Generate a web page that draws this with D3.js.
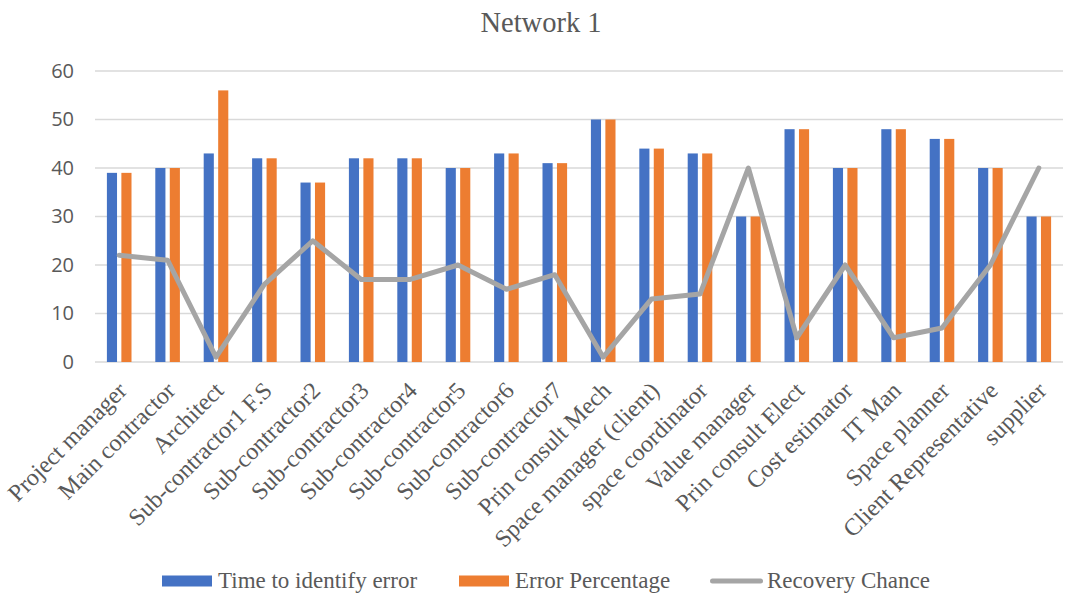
<!DOCTYPE html>
<html>
<head>
<meta charset="utf-8">
<script src="https://cdn.jsdelivr.net/npm/d3@7"></script>
<style>
  html, body { margin: 0; padding: 0; background: #fff; }
  svg { display: block; }
</style>
</head>
<body>
<svg id="chart" width="1065" height="596"></svg>
<script>
// Roles in network 1
const categories = [
  "Project manager", "Main contractor", "Architect", "Sub-contractor1 F.S",
  "Sub-contractor2", "Sub-contractor3", "Sub-contractor4", "Sub-contractor5",
  "Sub-contractor6", "Sub-contractor7", "Prin consult Mech", "Space manager (client)",
  "space coordinator", "Value manager", "Prin consult Elect", "Cost estimator",
  "IT Man", "Space planner", "Client Representative", "supplier"
];
const timeToIdentify = [39, 40, 43, 42, 37, 42, 42, 40, 43, 41, 50, 44, 43, 30, 48, 40, 48, 46, 40, 30];
const errorPercentage = [39, 40, 56, 42, 37, 42, 42, 40, 43, 41, 50, 44, 43, 30, 48, 40, 48, 46, 40, 30];
const recoveryChance = [22, 21, 1, 16, 25, 17, 17, 20, 15, 18, 1, 13, 14, 40, 5, 20, 5, 7, 20, 40];
const yTicks = [0, 10, 20, 30, 40, 50, 60];
const seriesNames = ["Time to identify error", "Error Percentage", "Recovery Chance"];

const colors = { time: "#4472c4", error: "#ed7d31", recovery: "#a5a5a5" };
const serif = "'Liberation Serif', 'Times New Roman', serif";
const sans = "'Open Sans', 'Noto Sans', sans-serif";

const svg = d3.select("#chart");
const plot = { left: 95, right: 1063, top: 71, bottom: 362 };

const x0 = d3.scaleBand().domain(categories).range([plot.left, plot.right]).padding(0);
const groupWidth = 24.6;
const x1 = d3.scaleBand().domain(["time", "error"]).range([0, groupWidth]).paddingInner(0.3);
const y = d3.scaleLinear().domain([0, 60]).range([plot.bottom, plot.top]);

// Title
svg.append("text")
  .attr("x", 541).attr("y", 32)
  .attr("text-anchor", "middle")
  .attr("font-family", serif).attr("font-size", 28.5)
  .attr("fill", "#595959")
  .text("Network 1");

// Gridlines
svg.append("g").selectAll("line").data(yTicks).join("line")
  .attr("x1", plot.left).attr("x2", plot.right)
  .attr("y1", d => y(d)).attr("y2", d => y(d))
  .attr("stroke", "#d9d9d9").attr("stroke-width", 1.5);

// Y axis labels
const yAxis = d3.axisLeft(y).tickValues(yTicks).tickSize(0).tickPadding(0);
const yg = svg.append("g").attr("transform", `translate(74,0)`).call(yAxis);
yg.select(".domain").remove();
yg.selectAll("text")
  .attr("font-family", sans).attr("font-size", 20)
  .attr("fill", "#595959");

// Bars
const groupStart = c => x0(c) + x0.bandwidth() / 2 - groupWidth / 2;
const barData = [];
categories.forEach((c, i) => {
  barData.push({ c, key: "time", v: timeToIdentify[i] });
  barData.push({ c, key: "error", v: errorPercentage[i] });
});
svg.append("g").selectAll("rect").data(barData).join("rect")
  .attr("x", d => groupStart(d.c) + x1(d.key))
  .attr("width", x1.bandwidth())
  .attr("y", d => y(d.v))
  .attr("height", d => y(0) - y(d.v))
  .attr("fill", d => colors[d.key]);

// Recovery line
const line = d3.line()
  .x((d, i) => x0(categories[i]) + x0.bandwidth() / 2)
  .y(d => y(d));
svg.append("path")
  .datum(recoveryChance)
  .attr("d", line)
  .attr("fill", "none")
  .attr("stroke", colors.recovery)
  .attr("stroke-width", 5)
  .attr("stroke-linejoin", "round")
  .attr("stroke-linecap", "round");

// Category labels
svg.append("g").selectAll("text").data(categories).join("text")
  .attr("transform", c => `translate(${x0(c) + x0.bandwidth() / 2 + 9},${plot.bottom + 30}) rotate(-45)`)
  .attr("text-anchor", "end")
  .attr("font-family", serif).attr("font-size", 24)
  .attr("fill", "#595959")
  .text(d => d);

// Legend
const legend = svg.append("g").attr("font-family", serif).attr("font-size", 23).attr("fill", "#595959");
const legendItems = [
  { name: seriesNames[0], key: "time", x: 162, tx: 218 },
  { name: seriesNames[1], key: "error", x: 459, tx: 515 },
  { name: seriesNames[2], key: "recovery", x: 710, tx: 767 }
];
legendItems.forEach(it => {
  if (it.key === "recovery") {
    legend.append("line")
      .attr("x1", it.x + 2.5).attr("x2", it.x + 50.5)
      .attr("y1", 581).attr("y2", 581)
      .attr("stroke", colors.recovery).attr("stroke-width", 5)
      .attr("stroke-linecap", "round");
  } else {
    legend.append("rect")
      .attr("x", it.x).attr("y", 575.5).attr("width", 50).attr("height", 11)
      .attr("fill", colors[it.key]);
  }
  legend.append("text")
    .attr("x", it.tx).attr("y", 588)
    .text(it.name);
});
</script>
</body>
</html>
